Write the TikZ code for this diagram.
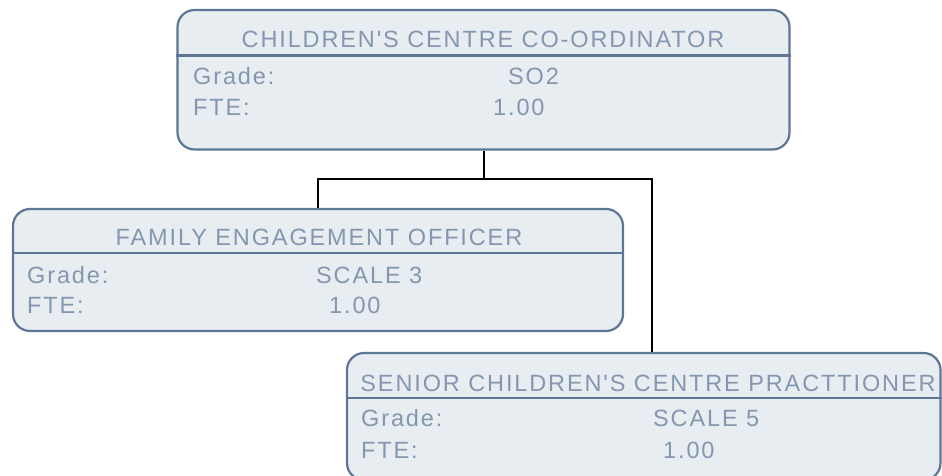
\documentclass[tikz,border=0pt]{standalone}
\usepackage{fontspec}
\newfontfamily\boxfont{Liberation Sans}[LetterSpace=8]
\definecolor{boxfill}{HTML}{E8EDF1}
\definecolor{boxline}{HTML}{5E7596}
\definecolor{boxtext}{HTML}{8597B0}
\tikzset{
  rolebox/.style={draw=boxline, fill=boxfill, line width=2.2pt, rounded corners=17pt, inner sep=0pt},
  divider/.style={draw=boxline, line width=2.2pt},
  txt/.style={inner sep=0pt, text=boxtext, font=\boxfont\fontsize{23.5}{28}\selectfont},
  lbl/.style={txt, anchor=base west},
  ttl/.style={txt, anchor=base},
  link/.style={draw=black, line width=2pt}
}
\begin{document}
\begin{tikzpicture}[x=1pt,y=-1pt]
\useasboundingbox (0,0) rectangle (942,475);
\clip (0,0) rectangle (942,475);
% boxes
\node[rolebox, minimum width=612pt, minimum height=139.5pt] (b1) at (483.5,79.75) {};
\node[rolebox, minimum width=610pt, minimum height=122pt] (b2) at (318,270) {};
\node[rolebox, minimum width=593.5pt, minimum height=127pt] (b3) at (643.75,416.5) {};
% dividers
\draw[divider] (b1.west |- 0,55.5) -- (b1.east |- 0,55.5);
\draw[divider] (b2.west |- 0,253) -- (b2.east |- 0,253);
\draw[divider] (b3.west |- 0,398) -- (b3.east |- 0,398);
% connectors
\coordinate (k) at (652,179);
\draw[link] (b1.south) -- (b1.south |- k);
\draw[link] (b2.north) |- (k) -- (k |- b3.north);
% texts box 1
\node[ttl] (t1) at (483,47) {CHILDREN'S CENTRE CO-ORDINATOR};
\node[lbl] (g1) at (193,84) {Grade:};
\node[lbl] (v1) at (508,84) {SO2};
\node[lbl] (f1) at (193,115) {FTE:};
\node[lbl] (w1) at (493,115) {1.00};
% texts box 2
\node[ttl] (t2) at (319,245) {FAMILY ENGAGEMENT OFFICER};
\node[lbl] (g2) at (27,283) {Grade:};
\node[lbl] (v2) at (316,283) {SCALE 3};
\node[lbl] (f2) at (27,313) {FTE:};
\node[lbl] (w2) at (329,313) {1.00};
% texts box 3
\node[ttl] (t3) at (648,391) {SENIOR CHILDREN'S CENTRE PRACTTIONER};
\node[lbl] (g3) at (361,426) {Grade:};
\node[lbl] (v3) at (653,426) {SCALE 5};
\node[lbl] (f3) at (361,458) {FTE:};
\node[lbl] (w3) at (663,458) {1.00};
\end{tikzpicture}
\end{document}
